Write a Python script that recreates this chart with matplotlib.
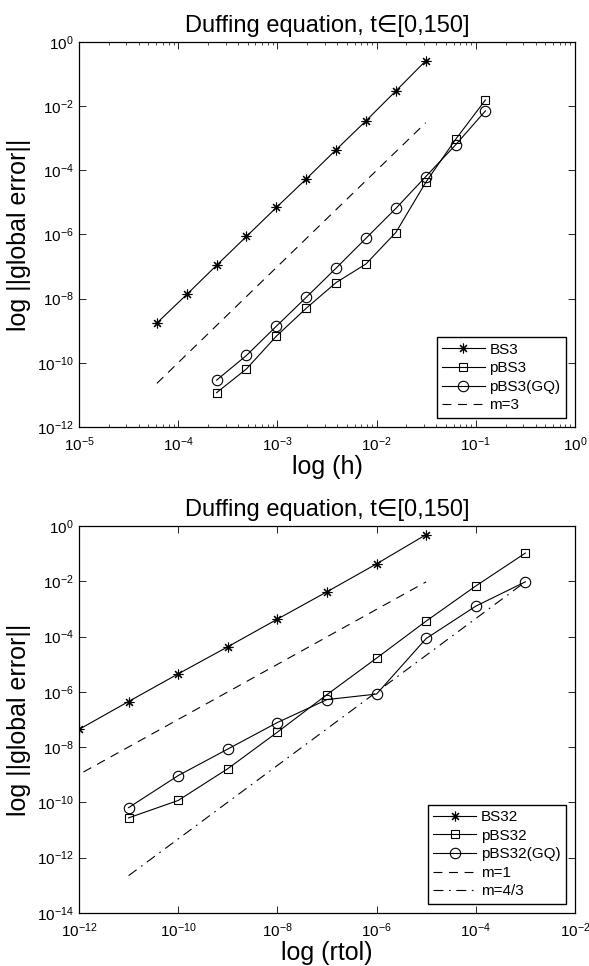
import numpy as np
import matplotlib
matplotlib.use('Agg')
import matplotlib.pyplot as plt
from matplotlib.ticker import LogLocator, NullLocator

plt.rcParams['font.family'] = ['Liberation Sans', 'DejaVu Sans']
plt.rcParams['mathtext.fontset'] = 'custom'
plt.rcParams['mathtext.rm'] = 'Liberation Sans'

# top panel: fixed step h = 2^-k
h_bs3 = 2.0 ** -np.arange(14, 4, -1)
err_bs3 = 10 ** np.array([-8.76, -7.87, -6.96, -6.06, -5.16, -4.27, -3.36, -2.46, -1.53, -0.59])
h_pbs3 = 2.0 ** -np.arange(12, 2, -1)
err_pbs3 = 10 ** np.array([-10.93, -10.19, -9.17, -8.30, -7.50, -6.92, -5.94, -4.38, -3.04, -1.81])
err_pbs3gq = 10 ** np.array([-10.54, -9.77, -8.86, -7.96, -7.05, -6.12, -5.19, -4.20, -3.21, -2.15])
h_ref3 = np.array([2.0 ** -14, 2.0 ** -5])
err_ref3 = 10 ** np.array([-10.64, -2.52])

# bottom panel: variable step, rtol
rtol_bs32 = 10.0 ** np.arange(-12, -4)
err_bs32 = 10 ** np.array([-7.36, -6.35, -5.35, -4.37, -3.37, -2.38, -1.37, -0.31])
rtol_pbs32 = 10.0 ** np.arange(-11, -2)
err_pbs32 = 10 ** np.array([-10.56, -9.93, -8.78, -7.46, -6.10, -4.78, -3.44, -2.17, -0.98])
err_pbs32gq = 10 ** np.array([-10.19, -9.03, -8.07, -7.11, -6.28, -6.08, -4.07, -2.90, -2.02])
rtol_ref1 = np.array([10 ** -11.91, 1e-5])
err_ref1 = 10 ** np.array([-8.90, -2.02])
rtol_ref43 = np.array([1e-11, 1e-3])
err_ref43 = 10 ** np.array([-12.65, -2.02])

fig = plt.figure(figsize=(5.89, 9.66), dpi=100)
ax1 = fig.add_axes([0.1341, 0.558, 0.8421, 0.3986])
ax2 = fig.add_axes([0.1341, 0.0549, 0.8421, 0.4006])

lw = 0.8
star = (8, 2, 0)
dash = (8, 6)
dashdot = (9, 5, 1.5, 5)
ax1.plot(h_bs3, err_bs3, 'k-', marker=star, ms=7, mew=0.8, lw=lw, label='BS3')
ax1.plot(h_pbs3, err_pbs3, 'k-', marker='s', ms=6, mfc='none', mew=0.8, lw=lw, label='pBS3')
ax1.plot(h_pbs3, err_pbs3gq, 'k-', marker='o', ms=7.5, mfc='none', mew=0.8, lw=lw, label='pBS3(GQ)')
ax1.plot(h_ref3, err_ref3, 'k--', lw=lw, dashes=dash, label='m=3')
ax1.set_xscale('log')
ax1.set_yscale('log')
ax1.set_xlim(1e-5, 1)
ax1.set_ylim(1e-12, 1)
ax1.set_xticks(10.0 ** np.arange(-5, 1))
ax1.xaxis.set_minor_locator(LogLocator(base=10, subs=np.arange(2, 10), numticks=20))
ax1.set_yticks(10.0 ** np.arange(-12, 1, 2))
ax1.yaxis.set_minor_locator(NullLocator())
ax1.set_title('Duffing equation, t\u2208[0,150]', fontsize=17, pad=7)
ax1.set_xlabel('log (h)', fontsize=18, labelpad=1)

ax2.plot(rtol_bs32, err_bs32, 'k-', marker=star, ms=7, mew=0.8, lw=lw, label='BS32')
ax2.plot(rtol_pbs32, err_pbs32, 'k-', marker='s', ms=6, mfc='none', mew=0.8, lw=lw, label='pBS32')
ax2.plot(rtol_pbs32, err_pbs32gq, 'k-', marker='o', ms=7.5, mfc='none', mew=0.8, lw=lw, label='pBS32(GQ)')
ax2.plot(rtol_ref1, err_ref1, 'k--', lw=lw, dashes=dash, label='m=1')
ax2.plot(rtol_ref43, err_ref43, 'k-.', lw=lw, dashes=dashdot, label='m=4/3')
ax2.set_xscale('log')
ax2.set_yscale('log')
ax2.set_xlim(1e-12, 1e-2)
ax2.set_ylim(1e-14, 1)
ax2.set_xticks(10.0 ** np.arange(-12, -1, 2))
ax2.xaxis.set_minor_locator(NullLocator())
ax2.set_yticks(10.0 ** np.arange(-14, 1, 2))
ax2.yaxis.set_minor_locator(NullLocator())
ax2.set_title('Duffing equation, t\u2208[0,150]', fontsize=17, pad=7)
ax2.set_xlabel('log (rtol)', fontsize=18, labelpad=1)

for ax in (ax1, ax2):
    ax.set_ylabel('log ||global error||', fontsize=18, va='center')
    ax.yaxis.set_label_coords(-0.12, 0.5)
    ax.tick_params(which='both', direction='in', top=True, right=True, labelsize=11)
    ax.tick_params(axis='x', which='both', pad=6)
    ax.tick_params(axis='y', which='both', pad=4)
    ax.tick_params(which='major', length=5, width=0.6)
    ax.tick_params(which='minor', length=2.5, width=0.5)
    for s in ax.spines.values():
        s.set_linewidth(0.9)
    leg = ax.legend(loc='lower right', fontsize=11, frameon=True, fancybox=False,
                    edgecolor='k', framealpha=1, borderaxespad=0.6,
                    handlelength=2.8, handletextpad=0.3, labelspacing=0.3, borderpad=0.35)
    leg.get_frame().set_linewidth(1.0)

fig.savefig('out.png', dpi=100)
